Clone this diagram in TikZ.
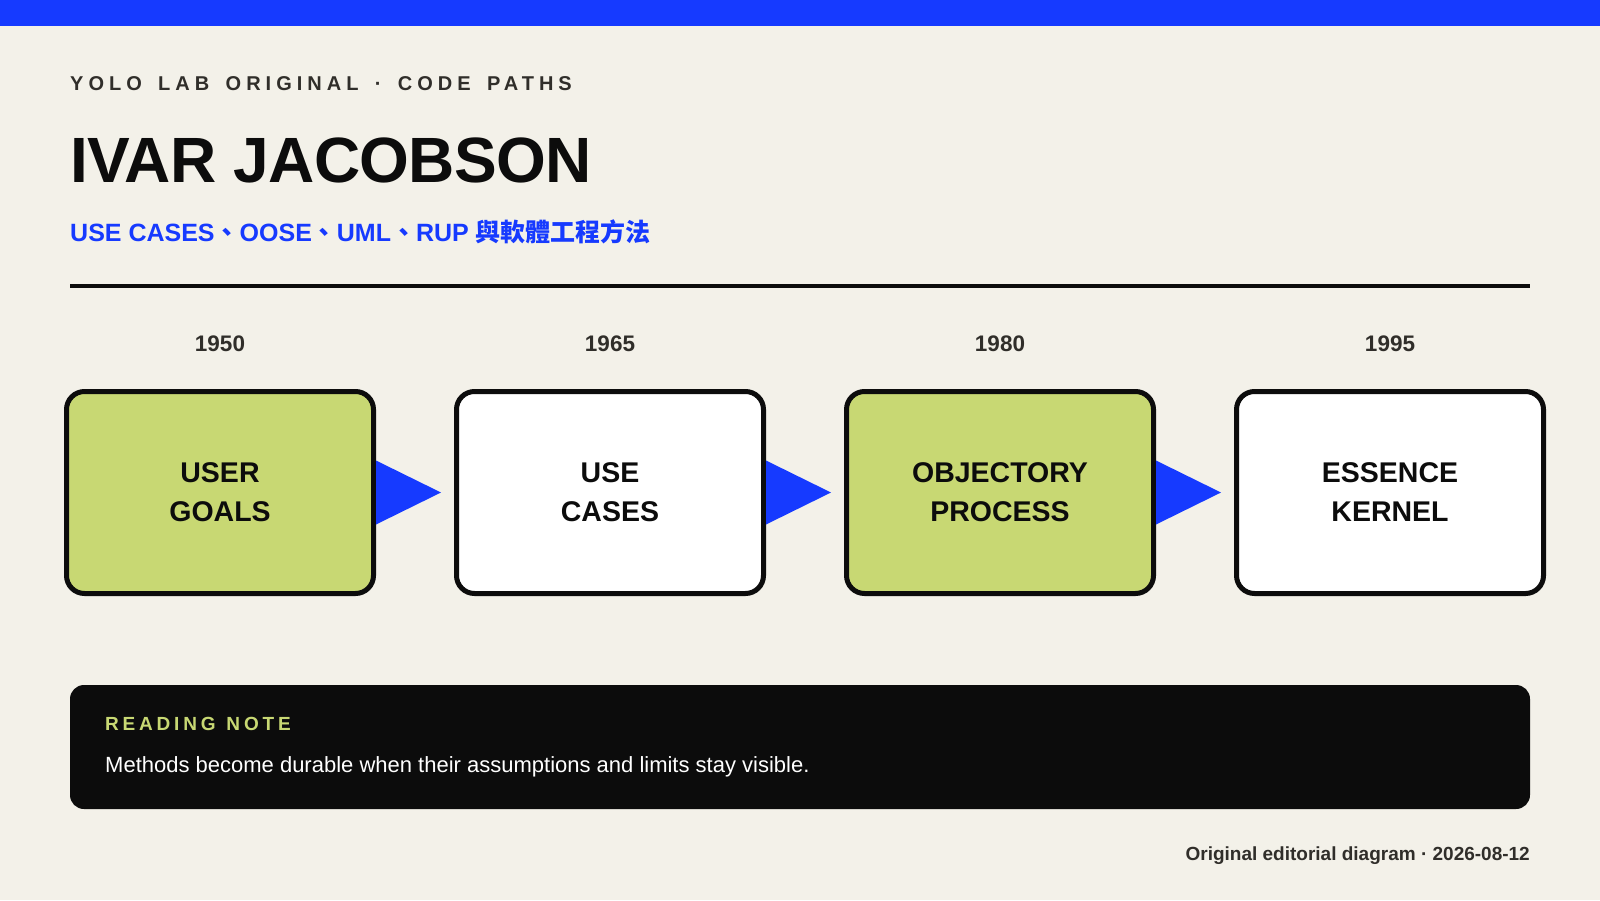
\documentclass[tikz,border=0pt]{standalone}
\usepackage{fontspec}
\setmainfont{Liberation Sans}
\newfontfamily\cjk{Noto Sans CJK TC}
\newfontfamily\tagfont{Liberation Sans}[LetterSpace=25, WordSpace=1.55]
\newfontfamily\headfont{Liberation Sans}[LetterSpace=20, WordSpace=1.2]
\usetikzlibrary{positioning, calc}
\definecolor{paper}{RGB}{243,241,233}
\definecolor{accent}{RGB}{22,58,255}
\definecolor{leaf}{RGB}{200,216,115}
\definecolor{ink}{RGB}{12,12,12}
\definecolor{graphite}{RGB}{48,46,42}
\tikzset{stage node/.style={rectangle, rounded corners=18pt, draw=ink, line width=5pt, minimum width=307pt, minimum height=202pt, align=center, text=ink, font=\fontsize{28.5}{39}\selectfont\bfseries},
	year label/.style={inner sep=0pt, anchor=base, text=graphite, font=\fontsize{22.5}{22.5}\selectfont\bfseries},
	plain text/.style={inner sep=0pt, anchor=base west},}

\begin{document}
\begin{tikzpicture}[x=1pt, y=-1pt]
			% Page
			\useasboundingbox (0,0) rectangle (1600,900);
			\fill[paper] (0,0) rectangle (1600,900);
			\fill[accent] (0,0) rectangle (1600,26);

			% Header
			\node[plain text, text=graphite, font=\tagfont\fontsize{20}{20}\selectfont\bfseries] (tag) at (70,90) {YOLO LAB ORIGINAL · CODE PATHS};
			\node[plain text, text=ink, font=\fontsize{64}{64}\selectfont\bfseries\addfontfeature{LetterSpace=-1}] (title) at (70,182) {IVAR JACOBSON};
			\node[plain text, text=accent, font=\fontsize{25}{25}\selectfont\bfseries] (subtitle) at (70,241) {USE CASES{\cjk 、}OOSE{\cjk 、}UML{\cjk 、}RUP {\cjk 與軟體工程方法}};
			\draw[ink, line width=4pt] (70,286) -- (1530,286);

			% Stages
			\node[stage node, fill=leaf] (goals) at (220,492.5) {USER\\GOALS};
			\node[stage node, fill=white] [right = 78pt of goals] (cases) {USE\\CASES};
			\node[stage node, fill=leaf] [right = 78pt of cases] (objectory) {OBJECTORY\\PROCESS};
			\node[stage node, fill=white] [right = 78pt of objectory] (essence) {ESSENCE\\KERNEL};

			% Years
			\node[year label] at ([yshift=38pt]goals.north) {1950};
			\node[year label] at ([yshift=38pt]cases.north) {1965};
			\node[year label] at ([yshift=38pt]objectory.north) {1980};
			\node[year label] at ([yshift=38pt]essence.north) {1995};

			% Arrows
			\foreach \a/\b in {goals/cases, cases/objectory, objectory/essence}
				\fill[accent] ([yshift=32pt]\a.east) -- ([xshift=-13pt]\b.west) -- ([yshift=-32pt]\a.east) -- cycle;

			% Note
			\node[rectangle, rounded corners=14pt, fill=ink, minimum width=1460pt, minimum height=124pt, inner sep=0pt] (note) at (800,747) {};
			\node[plain text, text=leaf, font=\headfont\fontsize{19}{19}\selectfont\bfseries] (notehead) at (105,730.5) {READING NOTE};
			\node[plain text, text=white, font=\fontsize{22}{22}\selectfont] (notebody) at (105,772.5) {Methods become durable when their assumptions and limits stay visible.};

			% Footer
			\node[inner sep=0pt, anchor=base east, text=graphite, font=\fontsize{19}{19}\selectfont\bfseries] (footer) at (1530,860) {Original editorial diagram · 2026-08-12};
		\end{tikzpicture}
\end{document}
